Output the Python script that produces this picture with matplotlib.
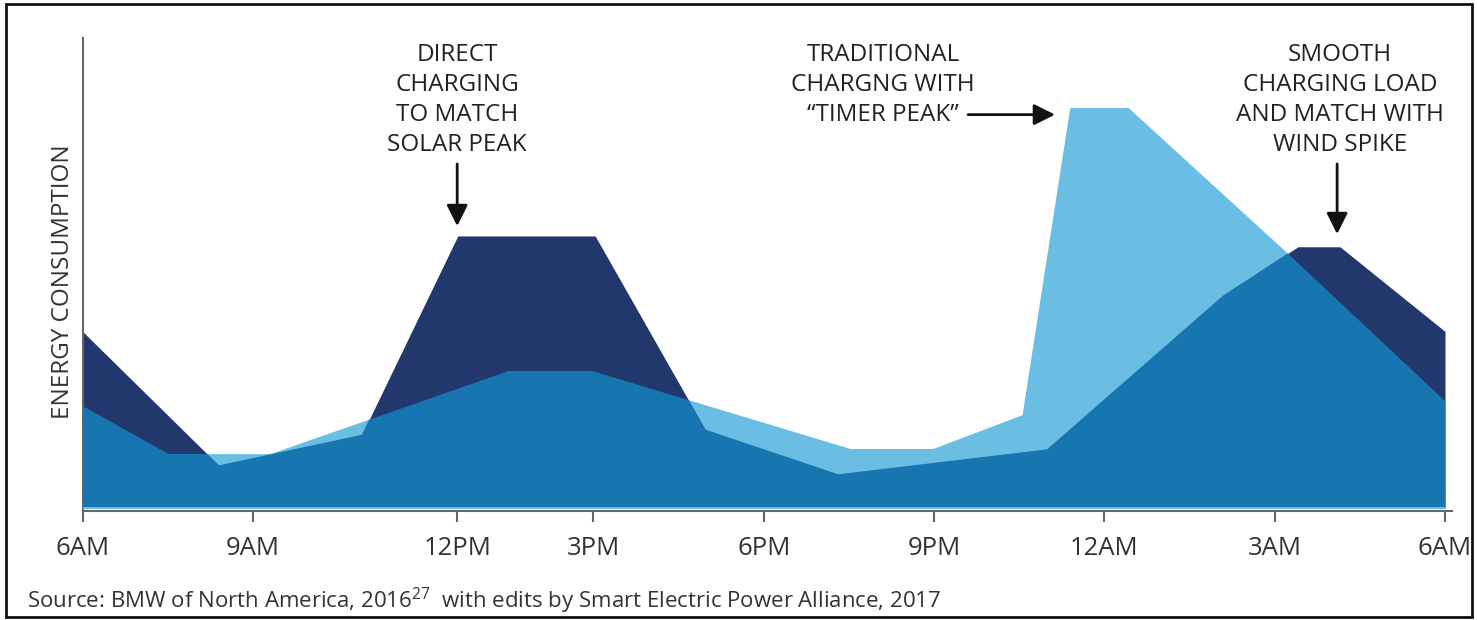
import matplotlib
matplotlib.use("Agg")
import matplotlib.pyplot as plt
from matplotlib.patches import Rectangle

plt.rcParams['font.family'] = ['Open Sans', 'DejaVu Sans']
plt.rcParams['mathtext.fontset'] = 'custom'
plt.rcParams['mathtext.rm'] = 'Open Sans'

# hours after 6AM and relative energy consumption (0-100)
smart_hours = [0, 2.40, 4.92, 6.61, 9.03, 10.97, 13.31, 16.99, 20.09, 21.41, 22.15, 24]
smart_load = [37.6, 9.1, 15.6, 57.9, 57.9, 16.7, 7.2, 12.5, 45.2, 55.6, 55.6, 37.6]

trad_hours = [0, 1.51, 3.30, 7.48, 8.99, 13.52, 14.98, 16.55, 17.39, 18.42, 21.22, 24]
trad_load = [21.8, 11.6, 11.6, 29.2, 29.2, 12.7, 12.7, 19.9, 85.2, 85.2, 54.3, 22.8]

tick_hours = [0, 3, 6.6, 9, 12, 15, 18, 21, 24]
tick_labels = ["6AM", "9AM", "12PM", "3PM", "6PM", "9PM", "12AM", "3AM", "6AM"]

dark = "#22386c"
light = "#6abde3"
mid = "#1775b0"

fig = plt.figure(figsize=(14.77, 6.2), dpi=100)
ax = fig.add_axes([82.5 / 1477, (620 - 511) / 620, (1445 - 82.5) / 1477, 473 / 620])

ax.fill_between(trad_hours, 0, trad_load, color=light, lw=0, zorder=1)
smart_fill = ax.fill_between(smart_hours, 0, smart_load, color=dark, lw=0, zorder=2)
# overlap of both loads
overlap = ax.fill_between(trad_hours, 0, trad_load, color=mid, lw=0, zorder=3)
overlap.set_clip_path(smart_fill.get_paths()[0], ax.transData)
ax.axhline(0, color=light, lw=1.5, zorder=4)

ax.set_xlim(0, 24)
ax.set_ylim(-0.6, 100)
for s in ["top", "right", "bottom"]:
    ax.spines[s].set_visible(False)
ax.spines["left"].set_color("#666666")
ax.spines["left"].set_linewidth(1.5)
ax.plot([0, 1.005], [0, 0], transform=ax.transAxes, color="#666666", lw=1.5,
        clip_on=False, zorder=5)
ax.set_yticks([])
ax.set_xticks(tick_hours)
ax.set_xticklabels(tick_labels, fontsize=18.5, color="#333333")
ax.tick_params(axis="x", length=8, width=1.5, color="#666666", pad=10)
ax.set_ylabel("ENERGY CONSUMPTION", fontsize=17.5, color="#333333")
ax.yaxis.set_label_coords(-0.0055, 0.484)

txt = dict(fontsize=17.5, color="#222222", ha="center", va="top", linespacing=1.33)
arrow = dict(arrowstyle="-|>", color="#111111", lw=2, mutation_scale=32, shrinkA=0, shrinkB=0)

fig.text(457 / 1477, 1 - 43 / 620, "DIRECT\nCHARGING\nTO MATCH\nSOLAR PEAK", **txt)
ax.annotate("", xy=(6.6, 60), xytext=(6.6, 73.2), arrowprops=arrow)

fig.text(883 / 1477, 1 - 43 / 620, "TRADITIONAL\nCHARGNG WITH\n\u201cTIMER PEAK\u201d", **txt)
ax.annotate("", xy=(17.13, 83.7), xytext=(15.6, 83.7), arrowprops=arrow)

fig.text(1340 / 1477, 1 - 43 / 620, "SMOOTH\nCHARGING LOAD\nAND MATCH WITH\nWIND SPIKE", **txt)
ax.annotate("", xy=(22.1, 58.3), xytext=(22.1, 73.2), arrowprops=arrow)

fig.text(27 / 1477, 1 - 601 / 620,
         r"Source: BMW of North America, 2016$^{\mathregular{27}}$  with edits by Smart Electric Power Alliance, 2017",
         fontsize=16, color="#333333", va="center")

fig.patches.append(Rectangle((6 / 1477, 3 / 620), 1466 / 1477, 613 / 620, transform=fig.transFigure,
                             fill=False, edgecolor="#111111", lw=2))

fig.savefig("out.png", dpi=100)
